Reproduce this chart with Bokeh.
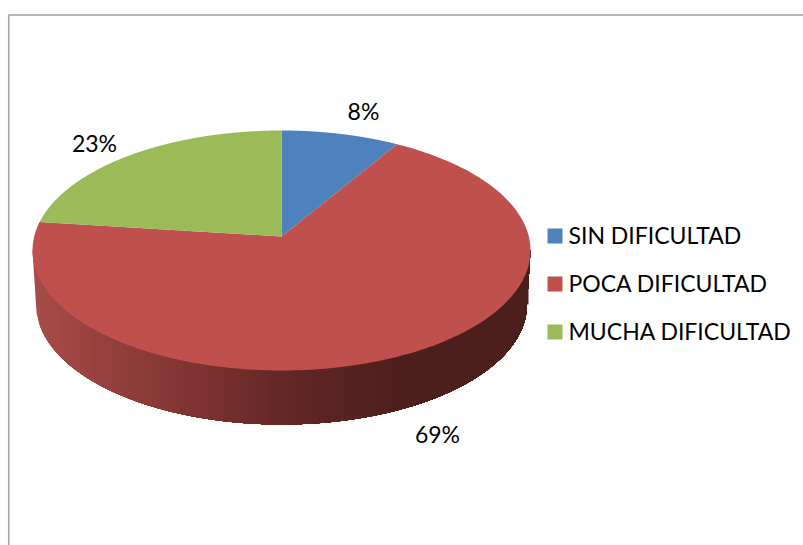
import numpy as np
from bokeh.plotting import figure
from bokeh.models import Range1d
from bokeh.core.properties import value
from bokeh.embed import file_html
from bokeh.resources import INLINE

categories = ["SIN DIFICULTAD", "POCA DIFICULTAD", "MUCHA DIFICULTAD"]
percent_values = [8.6, 68.4, 23.0]
percent_labels = ["8%", "69%", "23%"]
colors = ["#4F81BD", "#BF504D", "#9BBB59"]

W, H = 803, 545
p = figure(width=W, height=H, x_range=Range1d(1, W + 1), y_range=Range1d(H + 1, 1),
           output_backend="svg", toolbar_location=None, min_border=0,
           outline_line_color=None, background_fill_color="white", border_fill_color="white")
p.axis.visible = False
p.grid.visible = False

# projection of the 3D pie's unit disc onto the page
CX, APEX_Y, TOP_Y, FRONT_Y, HALF_W = 282.0, 237.0, 131.0, 371.0, 249.0
c = (TOP_Y + FRONT_Y - 2 * APEX_Y) / (FRONT_Y - TOP_Y)
b = TOP_Y * (1 + c) - APEX_Y
R = HALF_W * np.sqrt(1 - c * c)


def rim(frac):
    t = 2 * np.pi * np.asarray(frac)
    u, v = np.sin(t), np.cos(t)
    d = 1 + c * v
    return CX + R * u / d, (APEX_Y + b * v) / d


# side wall: vertical shaded strips, painted so each overlaps the rest to the right
ELL_CY, BOT_CY, BOT_HALF_W, RY = 251.0, 305.0, 245.5, 120.0
stop_x = [33, 150, 282, 400, 531]
stop_r = [168, 138, 100, 76, 76]
stop_g = [76, 58, 40, 31, 31]
stop_b = [73, 56, 38, 29, 29]
edges = np.arange(CX - HALF_W, CX + HALF_W, 4.0)
for x0 in edges:
    xs_b = np.linspace(max(x0, CX - BOT_HALF_W), CX + BOT_HALF_W, 160)
    ys_b = BOT_CY + RY * np.sqrt(np.clip(1 - ((xs_b - CX) / BOT_HALF_W) ** 2, 0, 1))
    xs = np.r_[x0, xs_b, CX + HALF_W]
    ys = np.r_[ELL_CY, ys_b, ELL_CY]
    col = (int(np.interp(x0, stop_x, stop_r)), int(np.interp(x0, stop_x, stop_g)),
           int(np.interp(x0, stop_x, stop_b)))
    p.patch(xs, ys, fill_color="#%02x%02x%02x" % col, line_color=None)

# top surface
cum = np.r_[0, np.cumsum(percent_values)] / sum(percent_values)
for i, col in enumerate(colors):
    fr = np.linspace(cum[i], cum[i + 1], 240)
    x, y = rim(fr)
    p.patch(np.r_[CX, x], np.r_[APEX_Y, y], fill_color=col, line_color=None)

# data labels
label_x = [364, 438, 95]
label_y = [111, 434, 143]
FONT = value("Lato")
p.text(x=label_x, y=label_y, text=percent_labels, text_font=FONT, text_font_size="23px",
       text_color="black", text_align="center", text_baseline="middle")

# legend
leg_y = [235.5, 283.5, 331.5]
p.rect(x=[555.5] * 3, y=[236.5, 284.5, 332.5], width=15, height=15, fill_color=colors, line_color=None)
p.text(x=[569] * 3, y=leg_y, text=categories, text_font=FONT, text_font_size="23px",
       text_color="black", text_align="left", text_baseline="middle")

# chart-area border
p.line([9.2, 9.2, W + 1], [H + 1, 15.5, 15.5], line_color="#A0A0A0", line_width=1.5)

open("out.html", "w").write(file_html(p, INLINE))
